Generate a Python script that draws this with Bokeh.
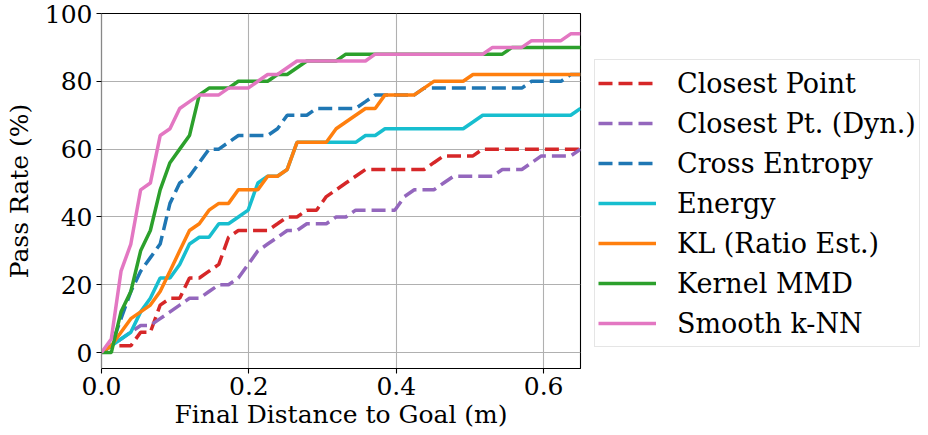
from bokeh.plotting import figure
from bokeh.models import Range1d, FixedTicker, Legend, LegendItem, CustomJSTickFormatter
from bokeh.embed import file_html
from bokeh.resources import INLINE

# Final distance to goal (m): sampling grid
dist = [0.0, 0.0133, 0.0265, 0.0398, 0.0531, 0.0663, 0.0796, 0.0929, 0.1061, 0.1194,
        0.1327, 0.1459, 0.1592, 0.1724, 0.1857, 0.1990, 0.2122, 0.2255, 0.2388, 0.2520,
        0.2653, 0.2786, 0.2918, 0.3051, 0.3184, 0.3316, 0.3449, 0.3582, 0.3714, 0.3847,
        0.3980, 0.4112, 0.4245, 0.4378, 0.4510, 0.4643, 0.4776, 0.4908, 0.5041, 0.5173,
        0.5306, 0.5439, 0.5571, 0.5704, 0.5837, 0.5969, 0.6102, 0.6235, 0.6367, 0.6500]

closest_point = [0, 2, 2, 2, 6, 6, 14, 16, 16, 22, 22, 24, 26, 34, 36, 36, 36, 36, 38, 40,
                 40, 42, 42, 46, 48, 50, 52, 54, 54, 54, 54, 54, 54, 54, 56, 58, 58, 58, 58, 60,
                 60, 60, 60, 60, 60, 60, 60, 60, 60, 60]
closest_pt_dyn = [0, 2, 4, 6, 8, 8, 10, 12, 14, 16, 16, 18, 20, 20, 22, 26, 30, 32, 34, 36,
                  36, 38, 38, 38, 40, 40, 42, 42, 42, 42, 42, 46, 48, 48, 48, 50, 52, 52, 52, 52,
                  52, 54, 54, 54, 56, 58, 58, 58, 58, 60]
cross_entropy = [0, 2, 10, 18, 24, 28, 32, 44, 50, 52, 56, 60, 60, 62, 64, 64, 64, 64, 66, 70,
                 70, 70, 72, 72, 72, 72, 72, 74, 76, 76, 76, 76, 76, 78, 78, 78, 78, 78, 78, 78,
                 78, 78, 78, 78, 80, 80, 80, 80, 82, 82]
energy = [0, 2, 4, 6, 12, 16, 22, 22, 26, 32, 34, 34, 38, 38, 40, 42, 50, 52, 52, 54,
          62, 62, 62, 62, 62, 62, 62, 64, 64, 66, 66, 66, 66, 66, 66, 66, 66, 66, 68, 70,
          70, 70, 70, 70, 70, 70, 70, 70, 70, 72]
kl_ratio = [0, 2, 6, 10, 12, 14, 18, 24, 30, 36, 38, 42, 44, 44, 48, 48, 48, 52, 52, 54,
            62, 62, 62, 62, 66, 68, 70, 72, 72, 76, 76, 76, 76, 78, 80, 80, 80, 80, 82, 82,
            82, 82, 82, 82, 82, 82, 82, 82, 82, 82]
kernel_mmd = [0, 0, 12, 18, 30, 36, 48, 56, 60, 64, 76, 78, 78, 78, 80, 80, 80, 80, 82, 82,
              84, 86, 86, 86, 86, 88, 88, 88, 88, 88, 88, 88, 88, 88, 88, 88, 88, 88, 88, 88,
              88, 88, 90, 90, 90, 90, 90, 90, 90, 90]
smooth_knn = [0, 4, 24, 32, 48, 50, 64, 66, 72, 74, 76, 76, 76, 78, 78, 78, 80, 82, 82, 84,
              86, 86, 86, 86, 86, 86, 86, 86, 88, 88, 88, 88, 88, 88, 88, 88, 88, 88, 88, 88,
              90, 90, 90, 90, 92, 92, 92, 92, 94, 94]

labels = ["Closest Point", "Closest Pt. (Dyn.)", "Cross Entropy", "Energy",
          "KL (Ratio Est.)", "Kernel MMD", "Smooth k-NN"]
series = [closest_point, closest_pt_dyn, cross_entropy, energy, kl_ratio, kernel_mmd, smooth_knn]
colors = ["#d62728", "#9467bd", "#1f77b4", "#17becf", "#ff7f0e", "#2ca02c", "#e377c2"]
dashed = [True, True, True, False, False, False, False]

x_ticks = [0.0, 0.2, 0.4, 0.6]
y_ticks = [0, 20, 40, 60, 80, 100]

FONT = "DejaVu Serif"
FS = "25px"
LFS = "27px"

p = figure(frame_width=479, frame_height=355, output_backend="svg", toolbar_location=None,
           x_range=Range1d(0, 0.65), y_range=Range1d(-4.7, 100),
           min_border_left=101, min_border_right=346, min_border_top=13, min_border_bottom=65)
p.background_fill_color = "white"
p.border_fill_color = "white"
p.outline_line_color = "black"
p.outline_line_width = 1.1

for ax in (p.xaxis[0], p.yaxis[0]):
    ax.major_label_text_font = FONT
    ax.major_label_text_font_size = FS
    ax.major_label_text_color = "black"
    ax.axis_label_text_font = FONT
    ax.axis_label_text_font_size = FS
    ax.axis_label_text_font_style = "normal"
    ax.axis_label_text_color = "black"
    ax.minor_tick_line_color = None
    ax.major_tick_in = 0
    ax.major_tick_out = 5
    ax.major_tick_line_color = "black"
    ax.major_tick_line_width = 1.1
    ax.axis_line_width = 1.1

p.xaxis[0].axis_line_color = "black"
p.yaxis[0].axis_line_color = "#888888"
p.xaxis.ticker = FixedTicker(ticks=x_ticks)
p.yaxis.ticker = FixedTicker(ticks=y_ticks)
p.xaxis.formatter = CustomJSTickFormatter(code="return tick.toFixed(1);")
p.xaxis.axis_label = "Final Distance to Goal (m)"
p.yaxis.axis_label = "Pass Rate (%)"
p.xaxis.major_label_standoff = 3
p.yaxis.major_label_standoff = 4
p.xaxis.axis_label_standoff = 2
p.yaxis.axis_label_standoff = 8

p.grid.grid_line_color = "#b0b0b0"
p.grid.grid_line_width = 1.1

items = []
for lab, ys, col, dsh in zip(labels, series, colors, dashed):
    r = p.line(dist, ys, line_color=col, line_width=3.5,
               line_dash="14 6" if dsh else "solid")
    items.append(LegendItem(label=lab, renderers=[r]))

legend = Legend(items=items, location=(14, 21), margin=0, padding=3,
                glyph_width=58, glyph_height=40, label_height=40, spacing=0,
                label_standoff=21,
                label_text_font=FONT, label_text_font_size=LFS,
                label_text_color="black",
                label_text_baseline="middle",
                border_line_color="#cccccc", border_line_width=1.2,
                background_fill_color="white", background_fill_alpha=1.0)
p.add_layout(legend, "right")

open("out.html", "w").write(file_html(p, INLINE))
